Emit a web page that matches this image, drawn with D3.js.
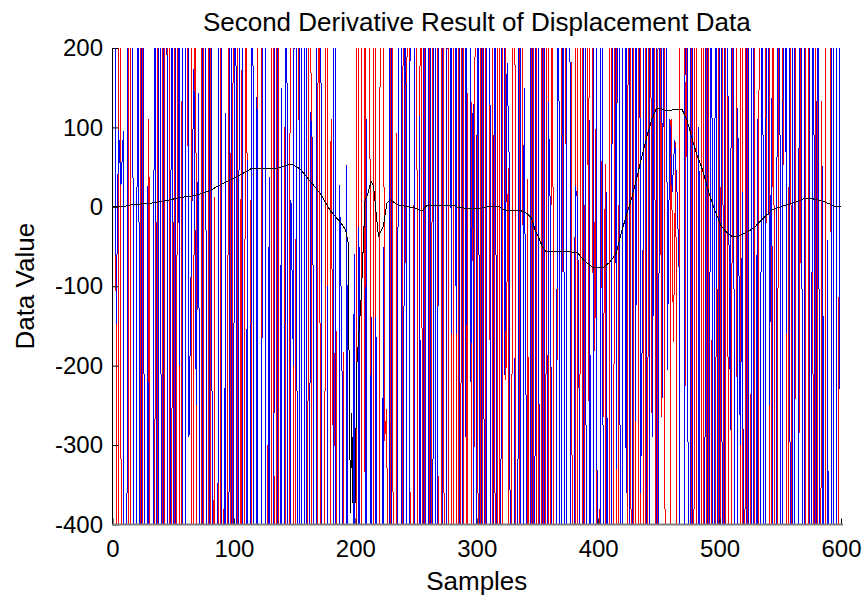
<!DOCTYPE html>
<html>
<head>
<meta charset="utf-8">
<script src="https://cdn.jsdelivr.net/npm/d3@7"></script>
<style>
  html, body { margin: 0; padding: 0; background: #fff; }
  svg { display: block; font-family: "Liberation Sans", Arial, sans-serif; }
</style>
</head>
<body>
<svg id="chart" width="866" height="595"></svg>
<script>
// ---------- data ----------
const H = 1400;   // spike beyond the top of the view
const L = -2000;  // spike beyond the bottom of the view

const titleText = "Second Derivative Result of Displacement Data";
const xLabelText = "Samples";
const yLabelText = "Data Value";
const xTicks = [0, 100, 200, 300, 400, 500, 600];
const yTicks = [-400, -300, -200, -100, 0, 100, 200];

// red series: one value every 2 samples (samples 0,2,4,...)
const redValues = [
  H, H, L, H, L, L, L, H, L, L, L, L, H, L, L, 111, L, L, H, L,
  L, H, L, H, L, H, L, H, L, H, H, 76, H, L, H, L, L, H, L, L,
  H, L, 13, L, H, L, -250, L, H, L, H, H, L, 172, L, H, L, 8, L, L,
  H, H, L, L, -300, L, H, L, H, L, L, 101, L, -58, H, L, H, -200, L, L,
  L, H, -250, L, L, H, L, L, H, L, 110, -365, -80, L, L, -183, L, L, L, L,
  L, H, L, H, -365, H, 158, L, H, L, -100, H, -295, -255, L, H, L, 93, L, L,
  H, -295, H, L, -276, H, L, H, L, H, H, L, H, H, -262, L, H, L, H, L,
  H, L, H, L, H, L, 143, L, 132, -302, H, L, H, L, H, H, L, H, L, H,
  L, H, -218, 49, L, H, -218, L, H, 87, L, 35, L, H, L, H, L, H, L, H,
  L, H, L, -290, H, -280, H, -345, L, 183, L, H, L, H, L, H, -245, H, -297, 98,
  L, 123, -265, 54, L, H, L, H, L, H, -10, L, -365, H, L, H, L, H, L, H,
  L, H, -260, H, L, H, -265, H, L, L, 110, -170, 82, L, H, H, -225, H, H, L,
  H, L, L, H, L, H, L, 62, L, H, L, H, L, H, L, -281, H, 169, L, H,
  L, H, L, -136, H, L, -253, H, H, -220, H, L, H, L, -208, H, -136, H, L, H,
  L, -355, H, -285, H, H, L, H, H, L, H, L, 133, L, H, H, -215, L, L, -113
];

// blue series: one value every 2 samples (samples 1,3,5,...)
const blueValues = [
  H, -147, 97, 28, 95, L, H, H, -44, L, H, L, H, L, 26, L, L, H, L, H,
  L, H, 126, L, H, L, H, -200, H, L, H, -290, -48, 173, -250, 143, L, H, -16, L,
  H, L, L, -265, H, L, 118, L, H, L, H, L, H, -45, L, 59, L, H, L, 138,
  L, -290, H, L, 38, L, -290, H, L, 150, L, H, L, 9, -200, H, L, H, L, H,
  L, 120, 72, L, H, H, L, L, -100, L, L, H, L, 28, -183, L, 53, L, L, -60,
  L, -25, L, L, 110, L, -139, L, -139, L, L, -50, L, L, H, L, L, -150, H, L,
  H, L, 160, H, -295, L, 114, L, H, L, H, L, H, L, H, H, L, -225, H, -160,
  H, -160, H, L, H, -290, H, -220, 130, L, H, L, H, L, H, 76, L, H, L, L,
  H, -212, 181, 38, L, -190, L, H, L, 150, -340, L, H, L, H, 32, L, H, L, 132,
  -45, L, L, H, L, H, L, H, 56, L, 26, 10, -380, L, H, L, 109, L, H, -290,
  L, H, L, 19, L, -265, H, -330, H, L, H, -360, H, L, H, -270, H, -360, -45, H,
  L, H, -290, H, L, H, -241, H, -206, 110, 19, 84, 17, -100, L, -285, H, L, H, L,
  L, 100, L, L, H, L, H, L, H, L, H, L, H, 97, -281, H, L, 124, -300, 19,
  L, H, L, H, L, 110, L, H, L, H, -250, 137, L, -180, H, L, H, -160, H, L,
  H, L, -285, H, L, H, H, L, H, L, H, L, 51, L, -42, L, H, L, H, -229
];

// black (smooth) series: sample positions and values
const blackSamples = [
  0, 10, 12, 34, 48, 56, 64, 72, 81, 89, 97, 105, 114, 122, 134, 141, 146, 149,
  155, 163, 171, 179, 188, 192, 194, 196, 197, 198, 200, 201, 205, 208, 210, 213,
  215, 219, 223, 226, 229, 234, 243, 248, 255, 259, 281, 285, 295, 303, 308, 319,
  321, 327, 335, 341, 345, 348, 351, 354, 357, 375, 383, 388, 396, 404, 410, 415,
  419, 423, 428, 432, 436, 440, 444, 448, 452, 455, 459, 463, 469, 473, 477, 481,
  485, 489, 493, 497, 501, 505, 510, 516, 522, 528, 533, 539, 544, 552, 561, 569,
  577, 585, 590, 596, 600
];
const blackValues = [
  0, 0, 2, 5, 9, 12, 13, 16, 21, 28, 34, 40, 48, 48, 48, 51, 54, 53,
  47, 32, 17, -4, -20, -29, -45, -385, -260, -372, -372, -205, -110, 9, 15, 32,
  26, -37, -25, 5, 9, 3, 0, -1, -5, 2, 2, -1, -2, -2, 0, 0,
  -3, -5, -4, -8, -14, -29, -39, -50, -56, -56, -58, -67, -77, -77, -69, -58,
  -33, -12, 13, 38, 63, 88, 109, 124, 124, 121, 121, 123, 123, 110, 88, 67,
  51, 30, 9, -8, -23, -31, -37, -37, -32, -27, -19, -10, -3, 1, 5, 10,
  10, 7, 4, 0, 0
];

// ---------- drawing ----------
const svg = d3.select("#chart");
const plotLeft = 112.5, plotRight = 841, plotTop = 48, plotBottom = 524.5;

const x = d3.scaleLinear().domain([0, 600]).range([plotLeft, plotRight]);
const y = d3.scaleLinear().domain([-400, 200]).range([plotBottom, plotTop]);

svg.append("defs").append("clipPath").attr("id", "plotclip")
  .append("rect")
  .attr("x", plotLeft).attr("y", plotTop)
  .attr("width", plotRight - plotLeft + 1).attr("height", plotBottom - plotTop);

const plot = svg.append("g").attr("clip-path", "url(#plotclip)");

const redLine = d3.line().x((d, i) => x(2 * i)).y(d => y(d));
const blueLine = d3.line().x((d, i) => x(2 * i + 1)).y(d => y(d));
const blackLine = d3.line().x(d => x(d[0])).y(d => y(d[1]));

plot.append("path").datum(redValues)
  .attr("d", redLine).attr("fill", "none")
  .attr("stroke", "#ff0000").attr("stroke-width", 1)
  .attr("shape-rendering", "crispEdges");

plot.append("path").datum(blueValues)
  .attr("d", blueLine).attr("fill", "none")
  .attr("stroke", "#0000ff").attr("stroke-width", 1)
  .attr("shape-rendering", "crispEdges");

plot.append("path").datum(blackSamples.map((s, i) => [s, blackValues[i]]))
  .attr("d", blackLine).attr("fill", "none")
  .attr("stroke", "#000000").attr("stroke-width", 1)
  .attr("shape-rendering", "crispEdges");

// axes
const fmt = d => String(d);  // plain hyphen-minus as in the reference
const xAxis = d3.axisBottom(x).tickValues(xTicks).tickFormat(fmt)
  .tickSizeInner(-6).tickSizeOuter(0).tickPadding(15);
const yAxis = d3.axisLeft(y).tickValues(yTicks).tickFormat(fmt)
  .tickSizeInner(-6).tickSizeOuter(0).tickPadding(9.5);

const gx = svg.append("g").attr("transform", `translate(0,${plotBottom})`).call(xAxis);
const gy = svg.append("g").attr("transform", `translate(${plotLeft},0)`).call(yAxis);

[gx, gy].forEach(g => {
  g.select(".domain").remove();
  g.selectAll(".tick line").attr("stroke", "#000");
  g.selectAll(".tick text")
    .attr("fill", "#000")
    .style("font-size", "24px")
    .style("font-family", '"Liberation Sans", Arial, sans-serif');
});

// axis lines
svg.append("line")
  .attr("x1", plotLeft).attr("x2", plotLeft).attr("y1", plotTop).attr("y2", plotBottom)
  .attr("stroke", "#000").attr("stroke-width", 1);
svg.append("line")
  .attr("x1", plotLeft).attr("x2", plotRight + 2).attr("y1", plotBottom).attr("y2", plotBottom)
  .attr("stroke", "#808080").attr("stroke-width", 2);

// title & labels
svg.append("text")
  .attr("x", (plotLeft + plotRight) / 2).attr("y", 31)
  .attr("text-anchor", "middle")
  .style("font-size", "26px")
  .text(titleText);

svg.append("text")
  .attr("x", (plotLeft + plotRight) / 2).attr("y", 590)
  .attr("text-anchor", "middle")
  .style("font-size", "26px")
  .text(xLabelText);

svg.append("text")
  .attr("transform", `translate(34,${(plotTop + plotBottom) / 2}) rotate(-90)`)
  .attr("text-anchor", "middle")
  .style("font-size", "26px")
  .text(yLabelText);
</script>
</body>
</html>
